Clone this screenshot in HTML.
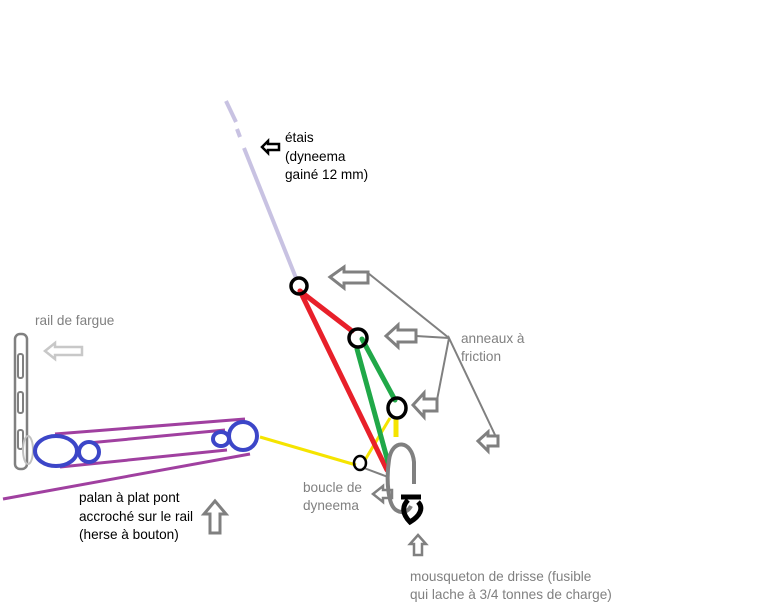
<!DOCTYPE html>
<html><head><meta charset="utf-8"><style>
html,body{margin:0;padding:0;background:#fff;}
svg{display:block;}
text{font-family:"Liberation Sans",sans-serif;font-size:13.6px;}
</style></head><body>
<svg width="768" height="614" viewBox="0 0 768 614" xmlns="http://www.w3.org/2000/svg">
<!-- etais -->
<g stroke="#c8c2e2" stroke-width="4" stroke-linecap="butt">
<line x1="226" y1="101" x2="236" y2="122"/>
<line x1="237" y1="129" x2="240" y2="137"/>
<line x1="244" y1="148" x2="296" y2="278"/>
</g>
<path d="M262,147 L268,141 L268,144 L279,144 L279,150 L268,150 L268,153 Z" fill="none" stroke="#000" stroke-width="2.5"/>
<text x="285" y="142" fill="#000">étais</text>
<text x="285" y="161" fill="#000">(dyneema</text>
<text x="285" y="179" fill="#000">gainé 12 mm)</text>

<!-- gray leaders -->
<g stroke="#808080" stroke-width="2" fill="none">
<polyline points="368,273 449,338"/>
<polyline points="416,336 449,338"/>
<polyline points="437,400 449,338 496,437"/>
<path d="M330,277 L344,267 L344,272 L368,272 L368,283 L344,283 L344,288 Z" stroke-width="3"/>
<path d="M386,336 L398,325 L398,330 L416,330 L416,342 L398,342 L398,347 Z" stroke-width="3"/>
<path d="M413,405 L424,393 L424,399 L437,399 L437,411 L424,411 L424,417 Z" stroke-width="3"/>
<path d="M478,441 L488,432 L488,436 L498,436 L498,446 L488,446 L488,451 Z" stroke-width="3"/>
</g>
<text x="461" y="343" fill="#808080">anneaux à</text>
<text x="461" y="361" fill="#808080">friction</text>

<!-- yellow -->
<g stroke="#f5e400" fill="none">
<line x1="260" y1="437" x2="356" y2="465" stroke-width="3"/>
<line x1="390" y1="418" x2="365" y2="460" stroke-width="3"/>
<line x1="396" y1="419" x2="396" y2="437" stroke-width="5"/>
</g>
<!-- red/green -->
<g stroke-width="5" fill="none" stroke-linecap="round">
<line x1="300" y1="291" x2="352" y2="331" stroke="#e8202a"/>
<line x1="300" y1="291" x2="387" y2="470" stroke="#e8202a"/>
<line x1="362" y1="339" x2="395" y2="400" stroke="#20a848"/>
<line x1="357" y1="349" x2="388" y2="462" stroke="#20a848"/>
</g>
<line x1="364" y1="468" x2="388" y2="477" stroke="#808080" stroke-width="2"/>
<!-- rings -->
<g fill="none" stroke="#000" stroke-width="3.5">
<circle cx="299" cy="286" r="8"/>
<circle cx="358" cy="338" r="9"/>
<ellipse cx="397" cy="408" rx="9" ry="10"/>
</g>
<ellipse cx="360" cy="463" rx="6" ry="7" fill="none" stroke="#000" stroke-width="2.5"/>
<!-- carabiner -->
<path d="M414,484 L414,462 C412,440 392,438 389,460 C386,480 388,505 396,510 C402,514 408,512 411,506" fill="none" stroke="#808080" stroke-width="4"/>
<path d="M401,497 L421,497 M408,500 C402,506 402,514 410,522 C420,516 424,508 418,502" fill="none" stroke="#000" stroke-width="5"/>
<path d="M373,494 L383,486 L383,490 L392,490 L392,498 L383,498 L383,502 Z" fill="none" stroke="#808080" stroke-width="2.5"/>
<text x="303" y="492" fill="#808080">boucle de</text>
<text x="303" y="510" fill="#808080">dyneema</text>
<path d="M418,535 L426,544 L422,544 L422,555 L414,555 L414,544 L410,544 Z" fill="none" stroke="#808080" stroke-width="2.5"/>
<text x="410" y="581" fill="#808080">mousqueton de drisse (fusible</text>
<text x="410" y="599" fill="#808080">qui lache à 3/4 tonnes de charge)</text>

<!-- rail -->
<rect x="15" y="334" width="12" height="135" rx="5" fill="none" stroke="#808080" stroke-width="2.5"/>
<g fill="none" stroke="#808080" stroke-width="2">
<rect x="18" y="354" width="5" height="24" rx="2"/>
<rect x="18" y="392" width="5" height="21" rx="2"/>
<rect x="18" y="430" width="5" height="19" rx="2"/>
</g>
<ellipse cx="28" cy="450" rx="5" ry="14" fill="none" stroke="#c0c0c0" stroke-width="2"/>
<path d="M45,351 L55,343 L55,347 L82,347 L82,355 L55,355 L55,359 Z" fill="none" stroke="#c8c8c8" stroke-width="2.5"/>
<text x="35" y="325" fill="#808080">rail de fargue</text>

<!-- palan -->
<g stroke="#a040a0" stroke-width="3">
<line x1="55" y1="434" x2="245" y2="419"/>
<line x1="88" y1="443" x2="225" y2="430"/>
<line x1="60" y1="467" x2="227" y2="450"/>
<line x1="3" y1="499" x2="250" y2="454"/>
</g>
<g fill="#fff" stroke="#3c46c8" stroke-width="4">
<ellipse cx="56" cy="451" rx="21" ry="15"/>
<circle cx="89" cy="452" r="10"/>
<ellipse cx="221" cy="439" rx="8" ry="7"/>
<circle cx="243" cy="436" r="14"/>
</g>
<text x="79" y="502" fill="#000">palan à plat pont</text>
<text x="79" y="521" fill="#000">accroché sur le rail</text>
<text x="79" y="539" fill="#000">(herse à bouton)</text>
<path d="M215,501 L226,514 L220,514 L220,533 L210,533 L210,514 L204,514 Z" fill="none" stroke="#808080" stroke-width="3"/>
</svg>
</body></html>
